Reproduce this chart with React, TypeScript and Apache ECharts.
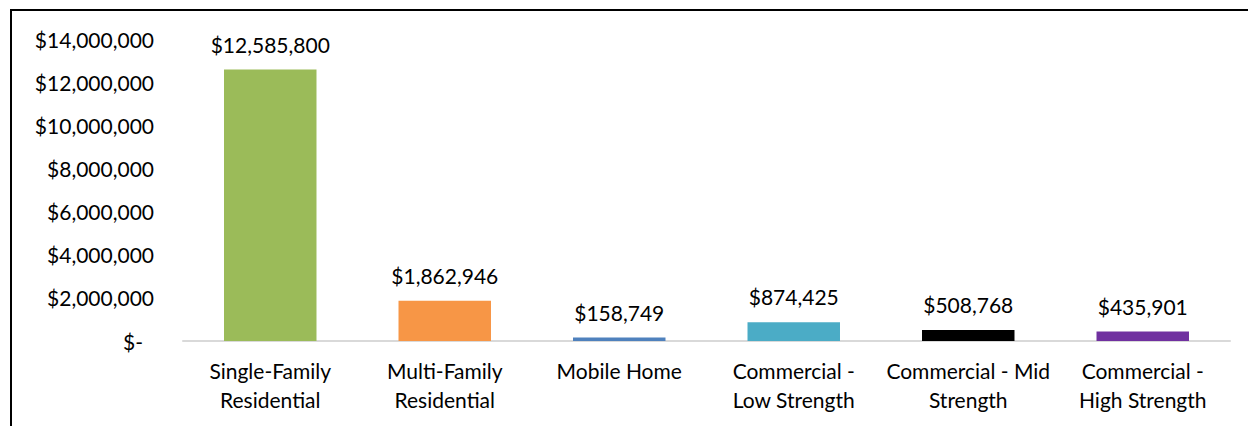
import React, { useEffect, useRef } from "react";
import * as echarts from "echarts";

const categories = [
  "Single-Family\nResidential",
  "Multi-Family\nResidential",
  "Mobile Home",
  "Commercial -\nLow Strength",
  "Commercial - Mid\nStrength",
  "Commercial -\nHigh Strength",
];
const values = [12585800, 1862946, 158749, 874425, 508768, 435901];
const barColors = ["#9BBB59", "#F79646", "#4F81BD", "#4BACC6", "#000000", "#7030A0"];
const yTicks = [0, 2000000, 4000000, 6000000, 8000000, 10000000, 12000000, 14000000];

const FONT = "Lato";

const fmt = (v: number) => "$" + v.toLocaleString("en-US");

export default function App() {
  const ref = useRef<HTMLDivElement>(null);
  useEffect(() => {
    if (!ref.current) return;
    const chart = echarts.init(ref.current, null, { renderer: "svg" });
    chart.setOption({
      animation: false,
      backgroundColor: "#ffffff",
      textStyle: { fontFamily: FONT },
      graphic: [
        {
          type: "rect",
          shape: { x: 11, y: 10, width: 1400, height: 600 },
          style: { fill: "none", stroke: "#000000", lineWidth: 2 },
          silent: true,
        },
      ],
      grid: { left: 183, right: 18, top: 39, bottom: 85, containLabel: false },
      xAxis: {
        type: "category",
        data: categories,
        axisLine: { show: true, lineStyle: { color: "#d9d9d9", width: 2 } },
        axisTick: { show: false },
        axisLabel: {
          interval: 0,
          margin: 15,
          fontFamily: FONT,
          fontSize: 21,
          lineHeight: 29,
          color: "#000000",
        },
      },
      yAxis: {
        type: "value",
        min: yTicks[0],
        max: yTicks[yTicks.length - 1],
        interval: yTicks[1] - yTicks[0],
        splitLine: { show: false },
        axisLine: { show: false },
        axisTick: { show: false },
        axisLabel: {
          margin: 29,
          fontFamily: FONT,
          fontSize: 21,
          color: "#000000",
          formatter: (v: number) => (v === 0 ? "{z|$-}" : fmt(v)),
          rich: { z: { fontFamily: FONT, fontSize: 21, color: "#000000", padding: [0, 11, 0, 0] } },
        },
      },
      series: [
        {
          type: "bar",
          barWidth: "53%",
          data: values.map((v, i) => ({ value: v, itemStyle: { color: barColors[i] } })),
          label: {
            show: true,
            position: "top",
            distance: 15,
            fontFamily: FONT,
            fontSize: 21,
            color: "#000000",
            formatter: (p: any) => fmt(p.value),
          },
        },
      ],
    });
    return () => chart.dispose();
  }, []);
  return (
    <div
      ref={ref}
      style={{ position: "absolute", left: 0, top: 0, width: 1248, height: 426 }}
    />
  );
}
